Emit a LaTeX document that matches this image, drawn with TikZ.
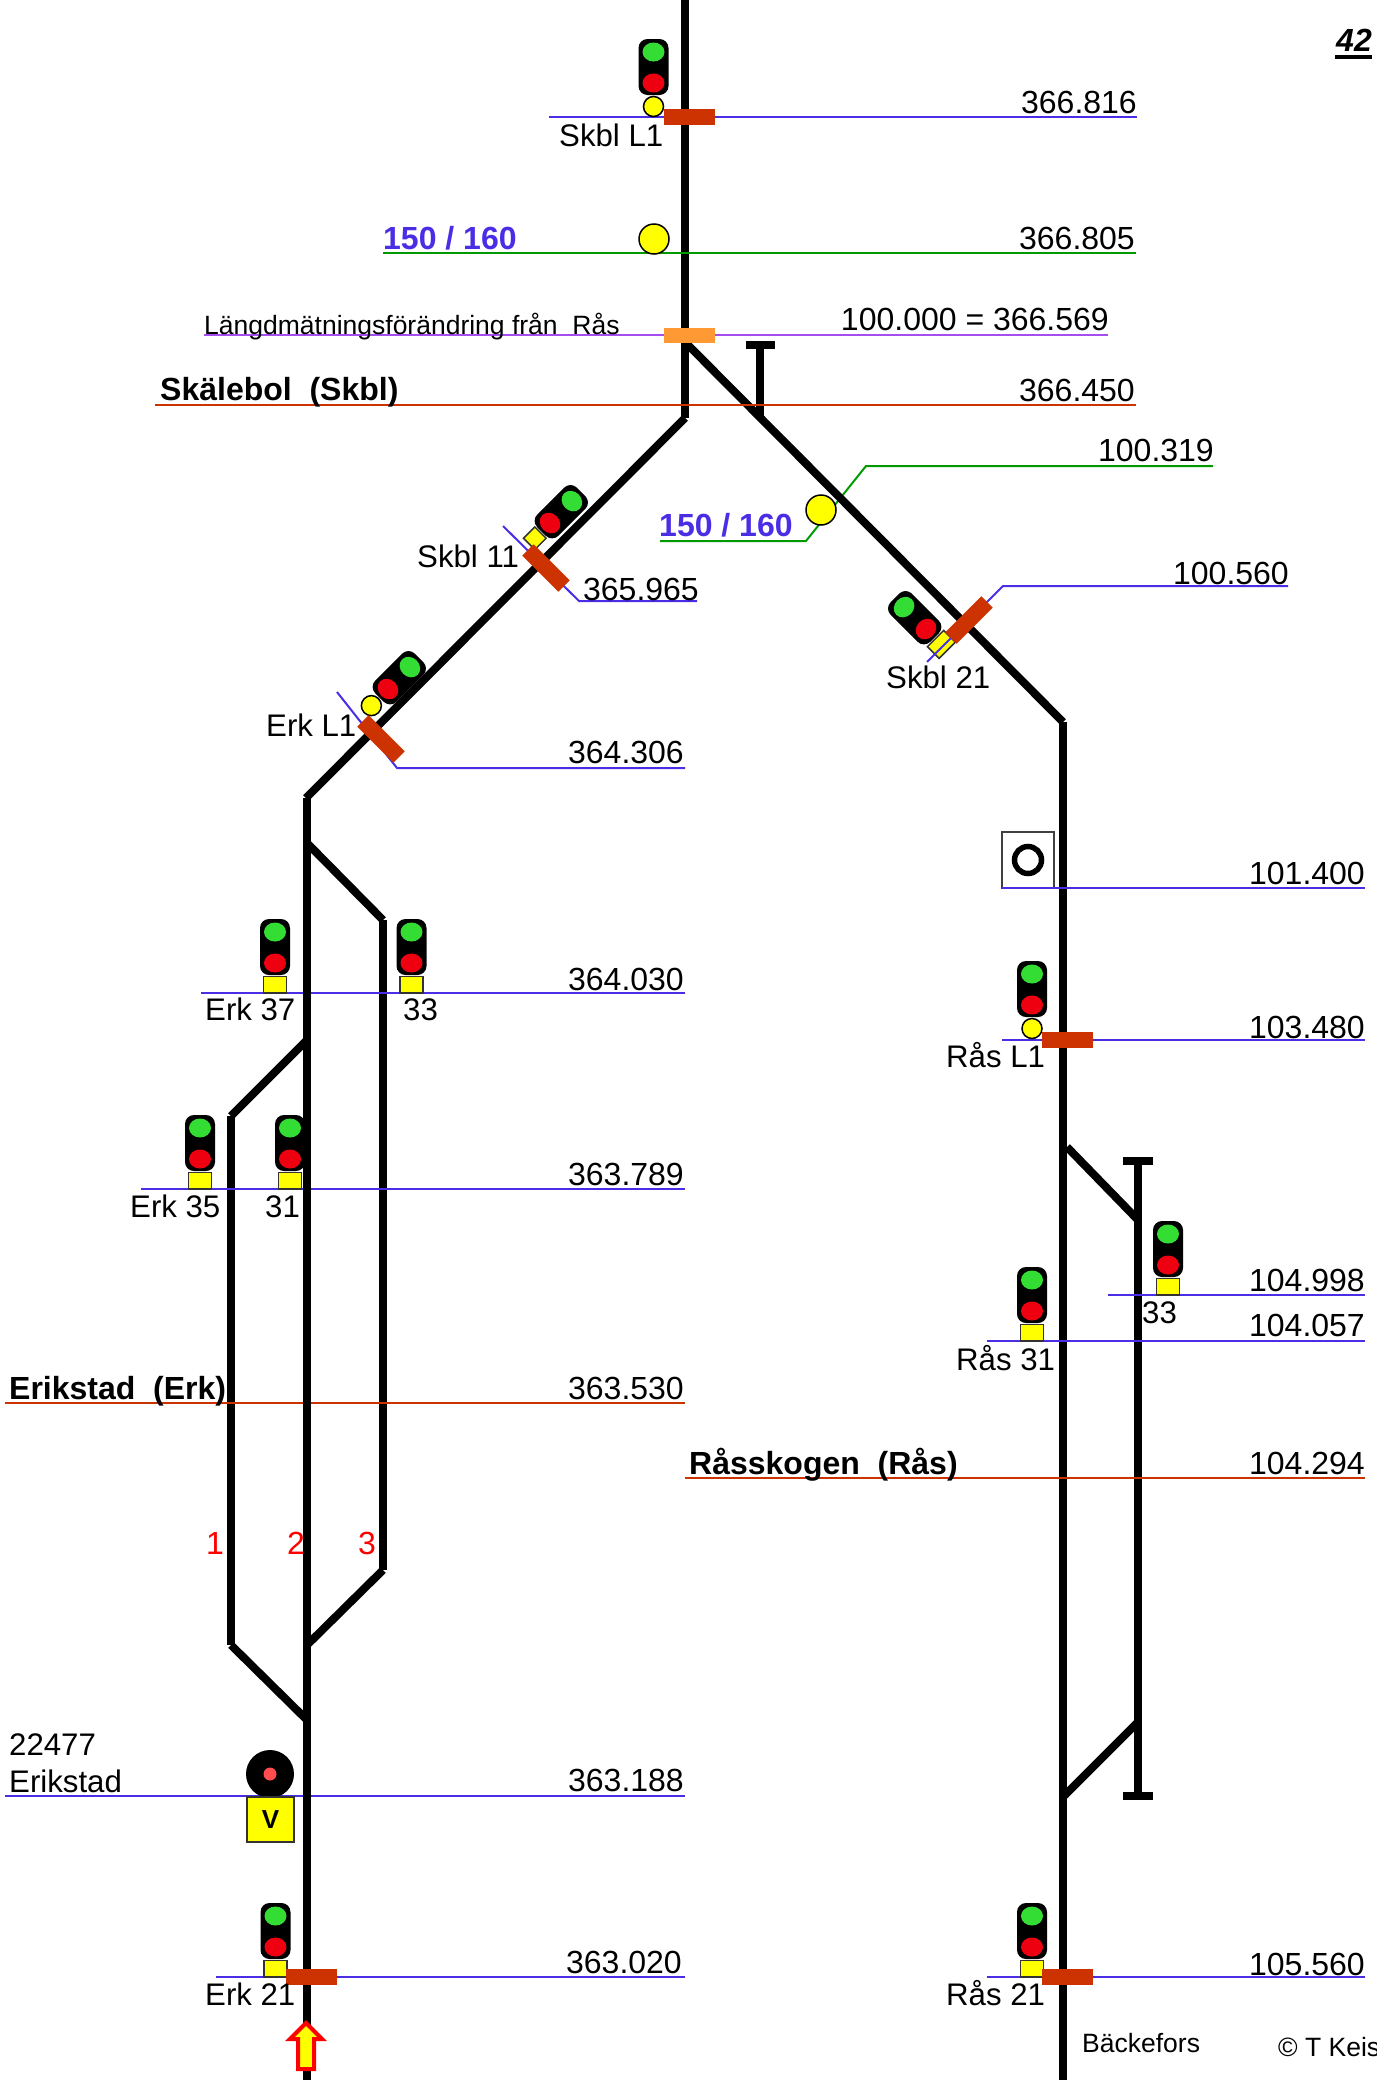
\documentclass[tikz,border=0pt]{standalone}
\usepackage{xcolor}
\usepackage{fontspec}
\setmainfont{Liberation Sans}
\usepackage{tikz}
\definecolor{kmblue}{HTML}{4A2EE6}
\definecolor{kmgreen}{HTML}{009A00}
\definecolor{kmred}{HTML}{CC3300}
\definecolor{kmpurple}{HTML}{A64DF0}
\definecolor{limitorange}{HTML}{FF9933}
\definecolor{lampgreen}{HTML}{33DD33}
\definecolor{lampred}{HTML}{EE0011}
\definecolor{lampyellow}{HTML}{FFFF00}
\newcommand{\sighead}{%
  \fill[black, rounded corners=9pt] (-15,-56) rectangle (15,0);
  \fill[lampgreen] (0,-43) ellipse (11 and 9.5);
  \fill[lampred] (0,-12) ellipse (11 and 9.5);}
\tikzset{
  sigrect/.pic={\sighead \filldraw[fill=lampyellow, draw=black!80, line width=1.5pt] (-11.5,1.5) rectangle (11.5,18);},
  sigsquare/.pic={\sighead \filldraw[fill=lampyellow, draw=black!80, line width=1.5pt] (-8,1.5) rectangle (8,17.5);},
  sigcircle/.pic={\sighead \filldraw[fill=lampyellow, draw=black, line width=1.5pt] (0,11.5) circle (10);}
}
\begin{document}
\begin{tikzpicture}[x=1pt, y=-1pt, every node/.style={inner sep=0pt, font=\fontsize{32}{38}\selectfont},
  track/.style={line width=8pt, black},
  kmline/.style={line width=2pt, kmblue},
  greenline/.style={line width=2pt, kmgreen},
  redline/.style={line width=2pt, kmred},
  purpleline/.style={line width=2pt, kmpurple},
  kmlabel/.style={anchor=base east},
  siglabel/.style={anchor=base west, font=\fontsize{31.2}{38}\selectfont},
  stationlabel/.style={anchor=base west, font=\fontsize{32}{38}\selectfont\bfseries},
  speedlabel/.style={anchor=base west, text=kmblue, font=\fontsize{32}{38}\selectfont\bfseries},
  tracknum/.style={anchor=center, text=red},
  smalllabel/.style={anchor=base west, font=\fontsize{26.5}{32}\selectfont},
  speedlamp/.style={draw=black, line width=1.5pt, fill=lampyellow, circle, minimum size=30pt},
  brake/.style={fill=kmred, minimum width=51pt, minimum height=16pt},
  ]
\useasboundingbox (0,0) rectangle (1376,2080);

% speed marker leader goes under the track
\draw[greenline] (660,541) -- (806,541) -- (866,466) -- (1213,466);

% tracks, all but the long left one
\draw[track] (685,0) -- (685,418);
\draw[track] (685,418) -- (306,798);
\draw[track] (685,342) -- (1063,722);
\draw[track] (760,345) -- (760,418);
\draw[track] (746,345) -- (775,345);
\draw[track] (1063,722) -- (1063,2080);
\draw[track] (1067,1147) -- (1138,1220);
\draw[track] (1138,1161) -- (1138,1796);
\draw[track] (1123,1161) -- (1153,1161);
\draw[track] (1123,1796) -- (1153,1796);
\draw[track] (1138,1722) -- (1063,1797);
\draw[track] (307,843) -- (383,920);
\draw[track] (383,920) -- (383,1570);
\draw[track] (383,1570) -- (307,1645);
\draw[track] (307,1040) -- (231,1116);
\draw[track] (231,1116) -- (231,1645);
\draw[track] (231,1645) -- (307,1720);

% km lines
\draw[kmline] (549,117) -- (1137,117);
\draw[greenline] (383,253) -- (1136,253);
\draw[purpleline] (204,335) -- (1108,335);
\draw[redline] (155,405) -- (1136,405);
\draw[kmline] (503,526) -- (579,601) -- (697,601);
\draw[kmline] (337,692) -- (397,768) -- (685,768);
\draw[kmline] (201,993) -- (685,993);
\draw[kmline] (141,1189) -- (685,1189);
\draw[redline] (5,1403) -- (685,1403);
\draw[kmline] (5,1796) -- (685,1796);
\draw[kmline] (216,1977) -- (685,1977);
\draw[kmline] (1002,1040) -- (1365,1040);
\draw[kmline] (1108,1295) -- (1365,1295);
\draw[kmline] (987,1341) -- (1365,1341);
\draw[redline] (685,1478) -- (1365,1478);
\draw[kmline] (987,1977) -- (1365,1977);

% signals
\pic at (653.5,95) {sigcircle};
\pic[rotate=-45] at (541.5,531.5) {sigsquare};
\pic[rotate=-45] at (379.5,697.5) {sigcircle};
\pic[rotate=45] at (934.5,637.5) {sigrect};
\pic at (275,975) {sigrect};
\pic at (411.5,975) {sigrect};
\pic at (200,1171) {sigrect};
\pic at (290,1171) {sigrect};
\pic at (1032,1017) {sigcircle};
\pic at (1032,1323) {sigrect};
\pic at (1168,1277) {sigrect};
\pic at (1032,1959) {sigrect};
\pic at (275.5,1959) {sigrect};

% this leader runs over its signal
\draw[kmline] (1288,586) -- (1003,586) -- (927,662);

% long left track lies over its lines
\draw[track] (307,798) -- (307,2080);

% markers
\node[brake] (brakeskbl) at (689.5,117) {};
\node[fill=limitorange, minimum width=51pt, minimum height=15pt] (limit) at (689.5,335.5) {};
\node[brake, rotate=-45] (brakeskbl11) at (546,568) {};
\node[brake, rotate=-45] (brakeerk) at (381,739) {};
\node[brake, rotate=45] (brakeskbl21) at (969,620) {};
\node[brake] (brakeerk21) at (311.5,1977) {};
\node[brake] (brakeras) at (1067.5,1040) {};
\node[brake] (brakeras21) at (1067.5,1977) {};
\node[speedlamp] (lamptop) at (654,239) {};
\node[speedlamp] (lampright) at (821,510) {};

% board with ring
\node[draw=black!75, line width=1.5pt, minimum width=52pt, minimum height=56pt] (board) at (1028,860) {};
\node[draw=black, line width=5.5pt, circle, minimum size=27pt] (ring) at (board) {};
\draw[kmline] (1002,888) -- (1365,888);

% distant signal
\node[fill=black, circle, minimum size=48pt] (disc) at (270,1774) {};
\node[fill=red!70!white, circle, minimum size=13pt] (discdot) at (disc) {};
\node[draw=black!80, line width=1.5pt, fill=lampyellow, minimum width=47pt, minimum height=45pt, font=\fontsize{26}{30}\selectfont\bfseries] (vbox) at (270.5,1819.5) {V};

% arrow
\filldraw[fill=lampyellow, draw=red, line width=4pt] (306,2023) -- (322,2039) -- (314,2039) -- (314,2069) -- (298,2069) -- (298,2039) -- (290,2039) -- cycle;

% km labels
\node[kmlabel] (km366816) at (1137,113) {366.816};
\node[kmlabel] (km366805) at (1135,249) {366.805};
\node[kmlabel] (km366569) at (1109,330) {100.000 = 366.569};
\node[kmlabel] (km366450) at (1135,401) {366.450};
\node[kmlabel] (km100319) at (1214,461) {100.319};
\node[kmlabel] (km100560) at (1289,584) {100.560};
\node[kmlabel] (km365965) at (699,600) {365.965};
\node[kmlabel] (km364306) at (684,763) {364.306};
\node[kmlabel] (km364030) at (684,990.5) {364.030};
\node[kmlabel] (km363789) at (684,1185) {363.789};
\node[kmlabel] (km363530) at (684,1399) {363.530};
\node[kmlabel] (km363188) at (684,1791) {363.188};
\node[kmlabel] (km363020) at (682,1973) {363.020};
\node[kmlabel] (km101400) at (1365,884) {101.400};
\node[kmlabel] (km103480) at (1365,1038) {103.480};
\node[kmlabel] (km104998) at (1365,1291) {104.998};
\node[kmlabel] (km104057) at (1365,1336) {104.057};
\node[kmlabel] (km104294) at (1365,1474) {104.294};
\node[kmlabel] (km105560) at (1365,1975) {105.560};

% signal labels
\node[siglabel] (skbll1) at (559,146) {Skbl L1};
\node[siglabel] (skbl11) at (417,567) {Skbl 11};
\node[siglabel] (erkl1) at (266,736) {Erk L1};
\node[siglabel] (skbl21) at (886,688) {Skbl 21};
\node[siglabel] (erk37) at (205,1020.5) {Erk 37};
\node[siglabel] (sig33) at (403,1020.5) {33};
\node[siglabel] (erk35) at (130,1217) {Erk 35};
\node[siglabel] (sig31) at (265,1217) {31};
\node[siglabel] (rasl1) at (946,1067) {Rås L1};
\node[siglabel] (ras33) at (1142,1323) {33};
\node[siglabel] (ras31) at (956,1370) {Rås 31};
\node[siglabel] (ras21) at (946,2005) {Rås 21};
\node[siglabel] (erk21) at (205,2005) {Erk 21};
\node[siglabel] (posnum) at (9,1755) {22477};
\node[siglabel] (posname) at (9,1792) {Erikstad};

% stations and the rest
\node[stationlabel] (skalebol) at (160,400) {Skälebol\ \ (Skbl)};
\node[stationlabel] (erikstad) at (9,1399) {Erikstad\ \ (Erk)};
\node[stationlabel] (rasskogen) at (689,1474) {Råsskogen\ \ (Rås)};
\node[speedlabel] (speedtop) at (383,249) {150 / 160};
\node[speedlabel] (speedright) at (659,536) {150 / 160};
\node[smalllabel] (lengthnote) at (204,334) {Längdmätningsförändring från\ \ Rås};
\node[smalllabel] (backefors) at (1082,2052) {Bäckefors};
\node[smalllabel] (copyright) at (1278,2056) {© T Keis};
\node[tracknum] (track1) at (215,1543) {1};
\node[tracknum] (track2) at (296,1543) {2};
\node[tracknum] (track3) at (367,1543) {3};
\node[anchor=base east, font=\fontsize{32}{38}\selectfont\bfseries\itshape] (pagenum) at (1372,51) {42};
\draw[line width=4pt] (1335,57) -- (pagenum.base east |- 0,57);
\end{tikzpicture}
\end{document}
